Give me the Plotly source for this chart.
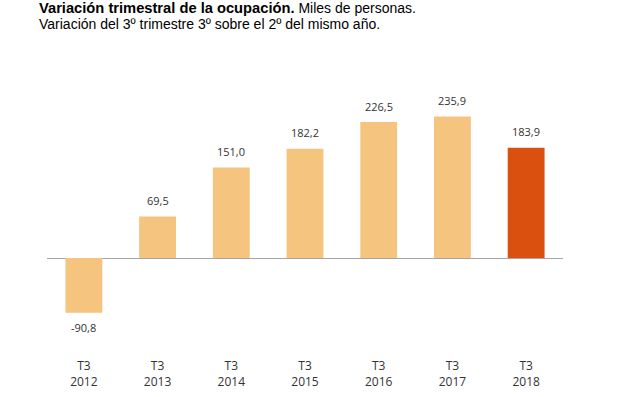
import plotly.graph_objects as go

categories = ["T3<br>2012", "T3<br>2013", "T3<br>2014", "T3<br>2015", "T3<br>2016", "T3<br>2017", "T3<br>2018"]
values = [-90.8, 69.5, 151.0, 182.2, 226.5, 235.9, 183.9]
labels = ["-90,8", "69,5", "151,0", "182,2", "226,5", "235,9", "183,9"]
bar_colors = ["#F5C580"] * 6 + ["#D9500F"]
title_line1 = "<b><span style='font-size:14.7px'>Variación trimestral de la ocupación.</span></b> Miles de personas."
title_line2 = "Variación del 3º trimestre 3º sobre el 2º del mismo año."

fig = go.Figure()
fig.add_trace(go.Bar(
    x=categories, y=values,
    marker=dict(color=bar_colors, line=dict(width=0)),
    hoverinfo="skip",
))

for c, v, t in zip(categories, values, labels):
    fig.add_annotation(
        x=c, y=v, text=t, showarrow=False,
        yshift=16 if v >= 0 else -15,
        font=dict(family="Open Sans, Liberation Sans, sans-serif", size=11, color="#333333"),
    )

title_font = dict(family="Liberation Sans, Arial, sans-serif", size=14, color="#000000")
fig.add_annotation(xref="paper", yref="paper", x=-0.0194, y=1.3745, xanchor="left", yanchor="middle",
                   text=title_line1, showarrow=False, font=title_font)
fig.add_annotation(xref="paper", yref="paper", x=-0.0194, y=1.3107, xanchor="left", yanchor="middle",
                   text=title_line2, showarrow=False, font=title_font)

fig.update_layout(
    width=643, height=397,
    margin=dict(l=47, r=80, t=102, b=44),
    paper_bgcolor="white", plot_bgcolor="white",
    bargap=0.5,
    showlegend=False,
    xaxis=dict(
        showline=False, showgrid=False, zeroline=False, ticks="",
        range=[-0.5, 6.5], ticklabelstandoff=4, automargin=False,
        tickfont=dict(family="Open Sans, Liberation Sans, sans-serif", size=12, color="#333333"),
    ),
    yaxis=dict(
        range=[-158, 260], visible=True, showticklabels=False, showgrid=False,
        showline=False, ticks="", automargin=False,
        zeroline=True, zerolinecolor="#A6A6A6", zerolinewidth=1,
    ),
)

fig.write_html("out.html", config={"displayModeBar": False},
               post_script="document.body.style.margin='0';")
